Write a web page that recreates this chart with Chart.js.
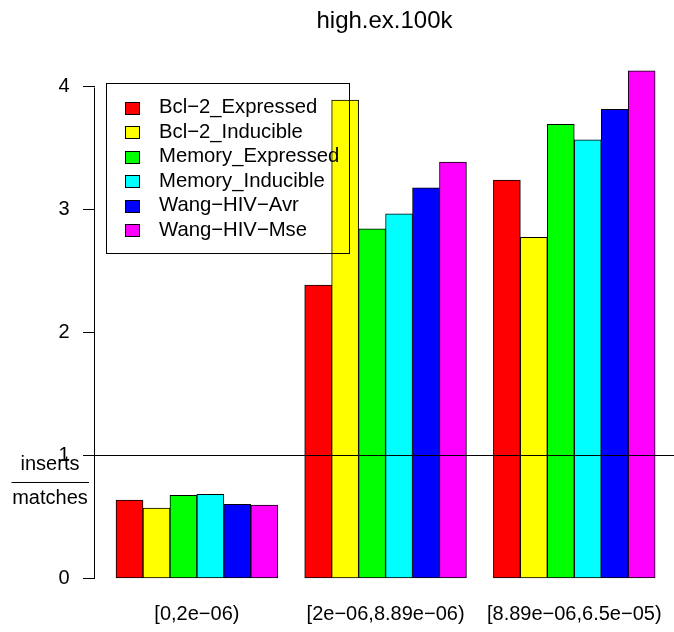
<!DOCTYPE html>
<html>
<head>
<meta charset="utf-8">
<script src="https://cdn.jsdelivr.net/npm/chart.js@4/dist/chart.umd.min.js"></script>
<style>
  html, body { margin: 0; padding: 0; background: #ffffff; }
  #wrap { width: 674px; height: 632px; position: relative; }
</style>
</head>
<body>
<div id="wrap"><canvas id="c" width="674" height="632"></canvas></div>
<script>
// ---------------- data ----------------
const chartTitle = 'high.ex.100k';
const categories = ['[0,2e\u221206)', '[2e\u221206,8.89e\u221206)', '[8.89e\u221206,6.5e\u221205)'];
const seriesNames = ['Bcl\u22122_Expressed', 'Bcl\u22122_Inducible', 'Memory_Expressed',
                     'Memory_Inducible', 'Wang\u2212HIV\u2212Avr', 'Wang\u2212HIV\u2212Mse'];
const bcl2Expressed   = [0.637, 2.386, 3.241];
const bcl2Inducible   = [0.572, 3.892, 2.775];
const memoryExpressed = [0.675, 2.845, 3.694];
const memoryInducible = [0.683, 2.967, 3.569];
const wangHivAvr      = [0.602, 3.178, 3.816];
const wangHivMse      = [0.596, 3.387, 4.130];
const yTicks = [0, 1, 2, 3, 4];
const refLine = 1;
const yLabelTop = 'inserts';
const yLabelBottom = 'matches';

// ---------------- styles ----------------
const seriesColors = ['#FF0000', '#FFFF00', '#00FF00', '#00FFFF', '#0000FF', '#FF00FF'];
const FONT = '"Liberation Sans", Arial, Helvetica, sans-serif';
Chart.defaults.font.family = FONT;
Chart.defaults.color = '#000';

const seriesValues = [bcl2Expressed, bcl2Inducible, memoryExpressed, memoryInducible, wangHivAvr, wangHivMse];
const nSeries = seriesNames.length;
// R barplot(beside=TRUE): one empty bar-width before each group
const groupStart = g => 1 + g * (nSeries + 1);
const barCenter = (g, i) => groupStart(g) + i + 0.5;
const groupCenter = g => groupStart(g) + nSeries / 2;

const datasets = seriesNames.map((name, i) => ({
  label: name,
  data: seriesValues[i].map((v, g) => ({ x: barCenter(g, i), y: v })),
  backgroundColor: seriesColors[i],
  borderColor: '#000',
  borderWidth: 1,
  borderSkipped: false,
  grouped: false,
  barPercentage: 1,
  categoryPercentage: 1
}));

const decor = {
  id: 'decor',
  afterDatasetsDraw(chart) {
    const { ctx, chartArea, scales } = chart;
    const y = scales.y;
    ctx.save();
    ctx.strokeStyle = '#000';
    ctx.lineWidth = 1;
    // horizontal reference line (abline h=1)
    const yr = Math.round(y.getPixelForValue(refLine)) + 0.5;
    ctx.beginPath();
    ctx.moveTo(chartArea.left - 12, yr);
    ctx.lineTo(chart.width, yr);
    ctx.stroke();
    // y axis line spanning first to last tick
    const xa = Math.round(chartArea.left) - 0.5;
    ctx.beginPath();
    ctx.moveTo(xa, Math.round(y.getPixelForValue(yTicks[0])) + 0.5);
    ctx.lineTo(xa, Math.round(y.getPixelForValue(yTicks[yTicks.length - 1])) + 0.5);
    ctx.stroke();

    // legend
    ctx.strokeRect(106.5, 83.5, 243, 170);
    ctx.font = '20.3px ' + FONT;
    ctx.textBaseline = 'middle';
    ctx.textAlign = 'left';
    chart.data.datasets.forEach((ds, i) => {
      const cy = 107.5 + 24.5 * i;
      const top = Math.round(cy - 6) + 0.5;
      ctx.fillStyle = ds.backgroundColor;
      ctx.fillRect(125.5, top, 14, 12);
      ctx.strokeRect(125.5, top, 14, 12);
      ctx.fillStyle = '#000';
      ctx.fillText(ds.label, 159, cy);
    });

    // y label as a fraction
    ctx.font = '20px ' + FONT;
    ctx.textAlign = 'center';
    ctx.fillStyle = '#000';
    ctx.fillText(yLabelTop, 50, 464.8);
    ctx.fillText(yLabelBottom, 50, 498.2);
    ctx.beginPath();
    ctx.moveTo(11.5, 482.5);
    ctx.lineTo(89, 482.5);
    ctx.stroke();

    // title centred over plot region
    ctx.font = '24px ' + FONT;
    ctx.textBaseline = 'alphabetic';
    ctx.fillText(chartTitle, (chartArea.left + chartArea.right) / 2, 28);
    ctx.restore();
  }
};

new Chart(document.getElementById('c'), {
  type: 'bar',
  data: { datasets },
  options: {
    responsive: false,
    animation: false,
    devicePixelRatio: 1,
    layout: { padding: { top: 51.2, left: 0, right: 0, bottom: 0 } },
    plugins: {
      legend: { display: false },
      tooltip: { enabled: false },
      title: { display: false }
    },
    scales: {
      x: {
        type: 'linear',
        min: 0.22,
        max: 21.7,
        offset: false,
        grid: { display: false },
        border: { display: false },
        afterBuildTicks: s => { s.ticks = categories.map((c, g) => ({ value: groupCenter(g) })); },
        afterFit: s => { s.height = 33.4; },
        ticks: {
          autoSkip: false,
          maxRotation: 0,
          padding: -4,
          font: { size: 20 },
          color: '#000',
          callback: (v, i) => categories[i]
        }
      },
      y: {
        type: 'linear',
        min: -0.165,
        max: 4.29,
        grid: { display: true, drawOnChartArea: false, drawTicks: true, tickLength: 12, color: '#000', lineWidth: 1 },
        border: { display: false },
        afterBuildTicks: s => { s.ticks = yTicks.map(v => ({ value: v })); },
        afterFit: s => { s.width = 95; },
        ticks: {
          padding: 13.5,
          font: { size: 20 },
          color: '#000',
          callback: v => String(v)
        }
      }
    }
  },
  plugins: [decor]
});
</script>
</body>
</html>
